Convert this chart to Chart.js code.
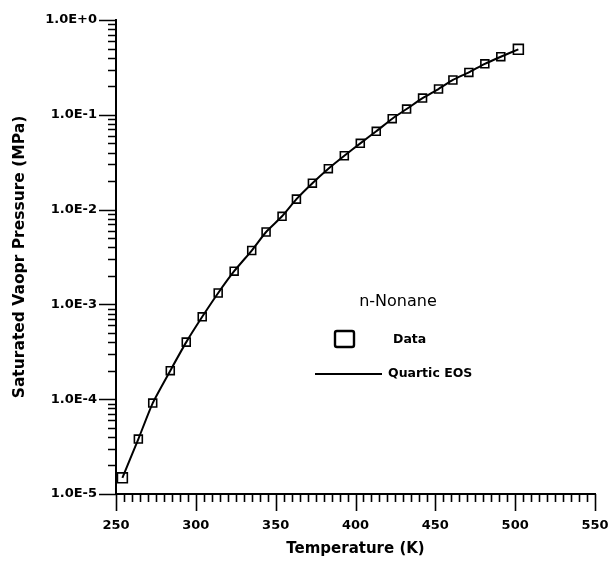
<!DOCTYPE html>
<html>
<head>
<meta charset="utf-8">
<title>n-Nonane vapour pressure</title>
<script src="https://cdn.jsdelivr.net/npm/chart.js@4.4.1/dist/chart.umd.min.js"></script>
<style>
  html, body { margin: 0; padding: 0; background: #fff; }
  #wrap { position: relative; width: 609px; height: 565px; }
</style>
</head>
<body>
<div id="wrap"><canvas id="vpChart"></canvas></div>
<script>
// data
var dataTemps = [254, 264, 273, 284, 294, 304, 314, 324, 335, 344, 354, 363, 373,
                 383, 393, 403, 413, 423, 432, 442, 452, 461, 471, 481, 491, 502];
var dataPressures = [1.48e-5, 3.8e-5, 9.1e-5, 2.0e-4, 4.0e-4, 7.4e-4, 1.32e-3, 2.24e-3, 3.7e-3,
                     5.8e-3, 8.5e-3, 1.29e-2, 1.9e-2, 2.7e-2, 3.7e-2, 5.0e-2, 6.7e-2, 9.1e-2,
                     0.115, 0.15, 0.187, 0.233, 0.28, 0.345, 0.41, 0.49];
// Quartic EOS curve, drawn through the same temperatures
var eosTemps = [254, 264, 273, 284, 294, 304, 314, 324, 335, 344, 354, 363, 373,
                383, 393, 403, 413, 423, 432, 442, 452, 461, 471, 481, 491, 502];
var eosPressures = [1.48e-5, 3.8e-5, 9.1e-5, 2.0e-4, 4.0e-4, 7.4e-4, 1.32e-3, 2.24e-3, 3.7e-3,
                    5.8e-3, 8.5e-3, 1.29e-2, 1.9e-2, 2.7e-2, 3.7e-2, 5.0e-2, 6.7e-2, 9.1e-2,
                    0.115, 0.15, 0.187, 0.233, 0.28, 0.345, 0.41, 0.49];

// ticks
var yDecades = [1e-5, 1e-4, 1e-3, 1e-2, 1e-1, 1];
var yTickLabels = ['1.0E-5', '1.0E-4', '1.0E-3', '1.0E-2', '1.0E-1', '1.0E+0'];
var xTickLabels = [250, 300, 350, 400, 450, 500, 550];
var xMinorStep = 5;

var yTicks = [];
yDecades.forEach(function(d, i) {
    if (i == yDecades.length - 1) { yTicks.push(d); return; }
    for (var m = 1; m < 10; m++) yTicks.push(d * m);
});
var xTicks = [];
for (var t = xTickLabels[0]; t <= xTickLabels[xTickLabels.length - 1]; t += xMinorStep) xTicks.push(t);

function isDecade(v) {
    var l = Math.log10(v);
    return Math.abs(l - Math.round(l)) < 1e-6;
}

// tick marks drawn by hand so majors can be longer
var tickMarks = {
    id: 'tickMarks',
    afterDraw: function(chart) {
        var ctx = chart.ctx, area = chart.chartArea;
        var xs = chart.scales.x, ys = chart.scales.y;
        ctx.save();
        ctx.strokeStyle = '#000';
        ctx.lineWidth = 1.6;
        ctx.beginPath();
        ys.ticks.forEach(function(tk) {
            var py = Math.round(ys.getPixelForValue(tk.value)) + 0.5;
            var len = isDecade(tk.value) ? 17 : 8;
            ctx.moveTo(area.left - len, py);
            ctx.lineTo(area.left, py);
        });
        xs.ticks.forEach(function(tk) {
            var px = Math.round(xs.getPixelForValue(tk.value)) + 0.5;
            var len = (tk.value % 50 == 0) ? 17 : 8;
            ctx.moveTo(px, area.bottom);
            ctx.lineTo(px, area.bottom + len);
        });
        ctx.stroke();
        ctx.restore();
    }
};

// legend box inside the plot
var legendBox = {
    id: 'legendBox',
    afterDraw: function(chart) {
        var ctx = chart.ctx;
        ctx.save();
        ctx.fillStyle = '#000';
        ctx.textBaseline = 'middle';
        ctx.textAlign = 'center';
        ctx.font = '16px "DejaVu Sans"';
        ctx.fillText('n-Nonane', 398, 302);

        ctx.strokeStyle = '#000';
        ctx.lineWidth = 2.4;
        ctx.beginPath();
        ctx.roundRect(335, 331, 19, 16, 2);
        ctx.stroke();

        ctx.lineWidth = 2;
        ctx.beginPath();
        ctx.moveTo(315, 374);
        ctx.lineTo(382, 374);
        ctx.stroke();

        ctx.textAlign = 'left';
        ctx.font = 'bold 12.5px "DejaVu Sans"';
        ctx.fillText('Data', 393, 340);
        ctx.fillText('Quartic EOS', 388, 374);
        ctx.restore();
    }
};

Chart.defaults.font.family = '"DejaVu Sans", sans-serif';
Chart.defaults.color = '#000';

var ctx = document.getElementById('vpChart').getContext('2d');
var vpChart = new Chart(ctx, {
    type: 'scatter',
    data: {
        datasets: [{
            label: 'Quartic EOS',
            data: eosTemps.map(function(t, i) { return {x: t, y: eosPressures[i]}; }),
            showLine: true,
            borderColor: '#000',
            borderWidth: 2,
            pointRadius: 0,
            tension: 0.2,
            order: 2
        }, {
            label: 'Data',
            data: dataTemps.map(function(t, i) { return {x: t, y: dataPressures[i]}; }),
            showLine: false,
            pointStyle: 'rect',
            pointRadius: function(c) {
                return (c.dataIndex == 0 || c.dataIndex == dataTemps.length - 1) ? 7 : 5.6;
            },
            pointBorderWidth: 1.6,
            pointBorderColor: '#000',
            pointBackgroundColor: 'rgba(0,0,0,0)',
            order: 1
        }]
    },
    options: {
        responsive: true,
        maintainAspectRatio: false,
        animation: false,
        layout: { padding: { top: 20, right: 14, left: 0, bottom: 0 } },
        plugins: {
            legend: { display: false },
            tooltip: { enabled: false }
        },
        scales: {
            x: {
                type: 'linear',
                min: 250,
                max: 550,
                afterBuildTicks: function(axis) {
                    axis.ticks = xTicks.map(function(v) { return {value: v}; });
                },
                afterFit: function(axis) {
                    axis.height = 71;
                    axis.paddingLeft = 0;
                    axis.paddingRight = 0;
                },
                grid: { display: false, drawTicks: false },
                border: { display: true, color: '#000', width: 2 },
                ticks: {
                    autoSkip: false,
                    maxRotation: 0,
                    padding: 24,
                    font: { size: 13, weight: 'bold' },
                    callback: function(v) {
                        return xTickLabels.indexOf(v) >= 0 ? String(v) : '';
                    }
                },
                title: {
                    display: true,
                    text: 'Temperature (K)',
                    font: { size: 15, weight: 'bold' },
                    padding: { top: 0, bottom: 7 }
                }
            },
            y: {
                type: 'logarithmic',
                min: 1e-5,
                max: 1,
                afterBuildTicks: function(axis) {
                    axis.ticks = yTicks.map(function(v) { return {value: v}; });
                },
                afterFit: function(axis) {
                    axis.width = 116;
                    axis.paddingTop = 0;
                    axis.paddingBottom = 0;
                },
                grid: { display: false, drawTicks: false },
                border: { display: true, color: '#000', width: 2 },
                ticks: {
                    autoSkip: false,
                    padding: 19,
                    font: { size: 13, weight: 'bold' },
                    callback: function(v) {
                        for (var i = 0; i < yDecades.length; i++) {
                            if (Math.abs(v - yDecades[i]) < yDecades[i] * 1e-6) return yTickLabels[i];
                        }
                        return '';
                    }
                },
                title: {
                    display: true,
                    text: 'Saturated Vaopr Pressure (MPa)',
                    font: { size: 15.5, weight: 'bold' },
                    padding: { top: 11, bottom: 4 }
                }
            }
        }
    },
    plugins: [tickMarks, legendBox]
});
</script>
</body>
</html>
